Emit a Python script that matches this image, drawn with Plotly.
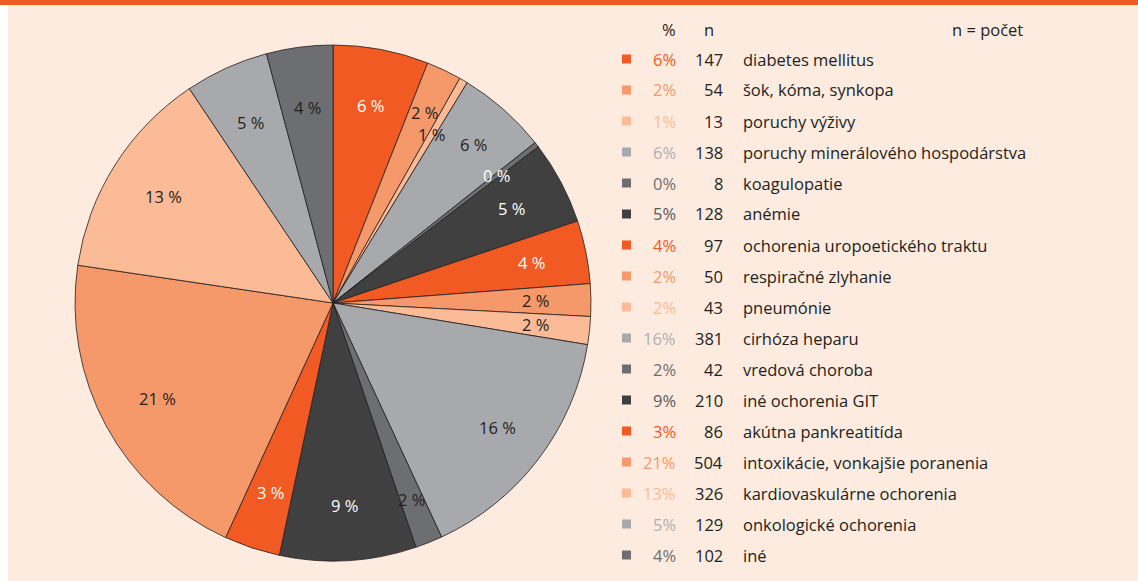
import math
import plotly.graph_objects as go

# ---- data ----
categories = [
    "diabetes mellitus", "šok, kóma, synkopa", "poruchy výživy",
    "poruchy minerálového hospodárstva", "koagulopatie", "anémie",
    "ochorenia uropoetického traktu", "respiračné zlyhanie", "pneumónie",
    "cirhóza heparu", "vredová choroba", "iné ochorenia GIT",
    "akútna pankreatitída", "intoxikácie, vonkajšie poranenia",
    "kardiovaskulárne ochorenia", "onkologické ochorenia", "iné",
]
counts = [147, 54, 13, 138, 8, 128, 97, 50, 43, 381, 42, 210, 86, 504, 326, 129, 102]
percent_labels = ["6%", "2%", "1%", "6%", "0%", "5%", "4%", "2%", "2%",
                  "16%", "2%", "9%", "3%", "21%", "13%", "5%", "4%"]

# ---- styles ----
W, H = 1138, 581
palette = ["#F15A22", "#F6996A", "#FBBB96", "#A7A9AC", "#6D6E71", "#404041"]
colors = [palette[i % 6] for i in range(len(counts))]
pct_text_colors = ["#F15A22", "#F6996A", "#FBBB96", "#AEB0B3", "#6D6E71", "#58595B"]
dark_txt = "#231F20"
slice_label_colors = []
for i, c in enumerate(colors):
    if c in ("#F15A22", "#404041") or categories[i] == "koagulopatie":
        slice_label_colors.append("white")
    else:
        slice_label_colors.append(dark_txt)

FONT = "Open Sans"
cx, cy, R = 333, 303, 258   # pie centre/radius in pixels
# label distance from centre, as fraction of radius (per slice)
label_rf = [0.78, 0.82, 0.755, 0.82, 0.805, 0.785, 0.785, 0.785, 0.79,
            0.80, 0.82, 0.785, 0.775, 0.775, 0.775, 0.77, 0.765]

fig = go.Figure()
fig.add_trace(go.Pie(
    labels=categories, values=counts, sort=False, direction="clockwise",
    rotation=0, textinfo="none", hoverinfo="label+value+percent",
    marker=dict(colors=colors, line=dict(color="#231F20", width=0.8)),
    domain=dict(x=[(cx - R) / W, (cx + R) / W],
                y=[(H - cy - R) / H, (H - cy + R) / H]),
    showlegend=False,
))

annotations = []
total = sum(counts)
cum = 0
for i, v in enumerate(counts):
    mid = (cum + v / 2) / total * 2 * math.pi
    cum += v
    r = label_rf[i] * R
    px = cx + r * math.sin(mid)
    py = cy - r * math.cos(mid)
    annotations.append(dict(
        x=px / W, y=1 - py / H, xref="paper", yref="paper",
        text=percent_labels[i].replace("%", " %"), showarrow=False,
        font=dict(family=FONT, size=16.5, color=slice_label_colors[i]),
        xanchor="center", yanchor="middle"))

# legend table
LS = 16.5
row0, dy = 59, 31.0
annotations.append(dict(x=669 / W, y=1 - 30 / H, xref="paper", yref="paper", text="%",
                        showarrow=False, xanchor="center", yanchor="middle",
                        font=dict(family=FONT, size=LS, color=dark_txt)))
annotations.append(dict(x=709 / W, y=1 - 30 / H, xref="paper", yref="paper", text="n",
                        showarrow=False, xanchor="center", yanchor="middle",
                        font=dict(family=FONT, size=LS, color=dark_txt)))
annotations.append(dict(x=1025 / W, y=1 - 30 / H, xref="paper", yref="paper", text="n = počet",
                        showarrow=False, xanchor="right", yanchor="middle",
                        font=dict(family=FONT, size=LS, color=dark_txt)))
shapes = []
for i, name in enumerate(categories):
    y = row0 + i * dy
    yp = 1 - y / H
    annotations.append(dict(x=678 / W, y=yp, xref="paper", yref="paper",
                            text=percent_labels[i], showarrow=False,
                            xanchor="right", yanchor="middle",
                            font=dict(family=FONT, size=LS, color=pct_text_colors[i % 6])))
    annotations.append(dict(x=725 / W, y=yp, xref="paper", yref="paper",
                            text=str(counts[i]), showarrow=False,
                            xanchor="right", yanchor="middle",
                            font=dict(family=FONT, size=LS, color=dark_txt)))
    annotations.append(dict(x=741 / W, y=yp, xref="paper", yref="paper",
                            text=name, showarrow=False,
                            xanchor="left", yanchor="middle",
                            font=dict(family=FONT, size=LS, color=dark_txt)))
    shapes.append(dict(type="rect", xref="paper", yref="paper",
                       x0=622 / W, x1=631 / W, y0=1 - (y + 4.5) / H, y1=1 - (y - 4.5) / H,
                       fillcolor=colors[i], line=dict(width=0)))

# frame: white strip at left, orange bar at top
shapes.append(dict(type="rect", xref="paper", yref="paper", x0=0, x1=8 / W, y0=0, y1=1,
                   fillcolor="white", line=dict(width=0), layer="below"))
shapes.append(dict(type="rect", xref="paper", yref="paper", x0=0, x1=1, y0=1 - 5 / H, y1=1,
                   fillcolor="#F15A22", line=dict(width=0), layer="below"))

fig.update_layout(
    width=W, height=H, margin=dict(l=0, r=0, t=0, b=0),
    paper_bgcolor="#FDEBDF", plot_bgcolor="#FDEBDF",
    annotations=annotations, shapes=shapes,
    font=dict(family=FONT, color=dark_txt),
)
fig.write_html("out.html", config={"displayModeBar": False},
               post_script="document.body.style.margin='0';document.body.style.overflow='hidden';")
